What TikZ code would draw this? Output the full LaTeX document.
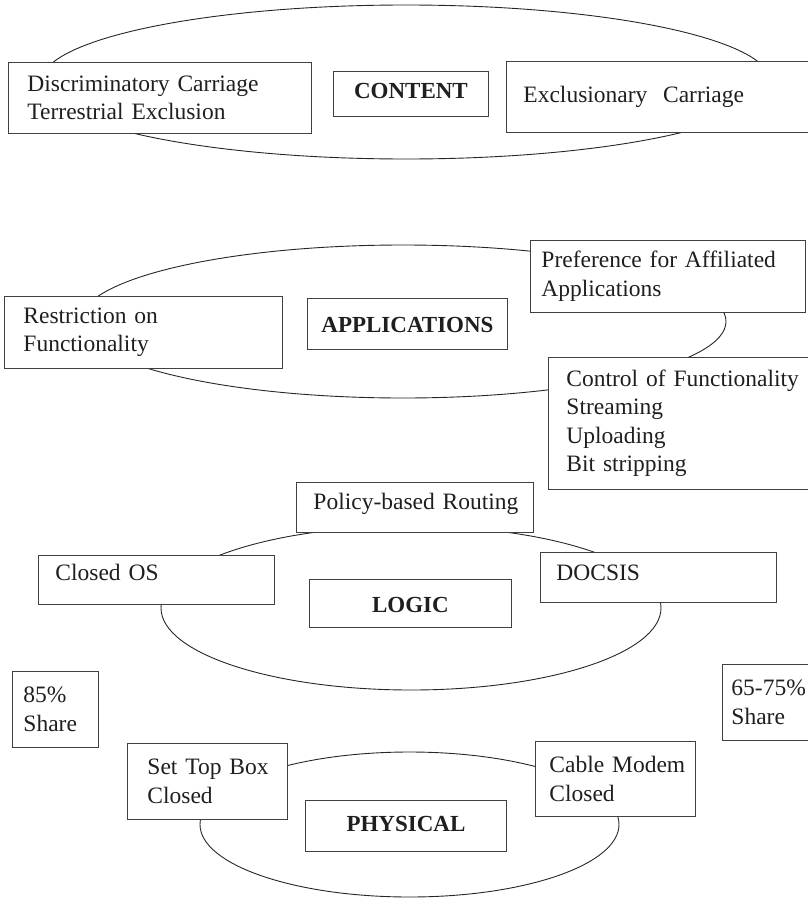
\documentclass[tikz,border=0pt]{standalone}
\usepackage{fontspec}
\setmainfont{Liberation Serif}
\usetikzlibrary{shapes.geometric}
\begin{document}
\begin{tikzpicture}[x=1pt,y=-1pt,
  ring/.style={draw=black!85, line width=0.9pt, ellipse, inner sep=0pt},
  bx/.style={draw=black!75, line width=0.9pt, fill=white, rectangle, anchor=north west,
    inner xsep=0pt, inner ysep=0pt, font=\fontsize{23.5}{28.5}\selectfont, text=black!88},
  lbox/.style={bx, align=left},
  tbox/.style={bx, align=center, font=\fontsize{23}{28.5}\selectfont\bfseries}
]
\useasboundingbox (0,0) rectangle (808,899);

% layer rings
\node[ring, minimum width=730pt, minimum height=154pt] (ringC) at (406,82) {};
\node[ring, minimum width=646pt, minimum height=153pt] (ringA) at (403,321.5) {};
\node[ring, minimum width=500pt, minimum height=164pt] (ringL) at (411,608) {};
\node[ring, minimum width=419pt, minimum height=145pt] (ringP) at (409.5,824.5) {};

% CONTENT
\node[lbox, minimum width=303pt, minimum height=71pt, text width=265pt] (dc) at (8,62)
  {\mbox{Discriminatory Carriage}\\\mbox{Terrestrial Exclusion}};
\node[tbox, minimum width=155pt, minimum height=45pt, text height=27pt, text depth=18pt] (content) at (333,71) {CONTENT};
\node[lbox, minimum width=309pt, minimum height=71pt, text width=275pt, text height=41pt, text depth=30pt] (excl) at (506,61)
  {\mbox{Exclusionary\ \ Carriage}};

% APPLICATIONS
\node[lbox, minimum width=275pt, minimum height=72pt, text width=253pt] (pref) at (530,240)
  {\mbox{Preference for Affiliated}\\Applications};
\node[lbox, minimum width=278pt, minimum height=72pt, text width=240pt] (restr) at (4,296)
  {\mbox{Restriction on}\\Functionality};
\node[tbox, minimum width=200pt, minimum height=51pt, text height=34pt, text depth=17pt] (apps) at (307,298) {APPLICATIONS};
\node[lbox, minimum width=267pt, minimum height=132pt, text width=231pt] (ctrl) at (548,357)
  {\mbox{Control of Functionality}\\Streaming\\Uploading\\\mbox{Bit stripping}};

% LOGIC
\node[lbox, minimum width=237pt, minimum height=50pt, text width=203pt, text height=27pt, text depth=23pt] (policy) at (296,482)
  {\mbox{Policy-based Routing}};
\node[lbox, minimum width=236pt, minimum height=49pt, text width=202pt, text height=25pt, text depth=24pt] (closedos) at (38,555)
  {\mbox{Closed OS}};
\node[lbox, minimum width=236pt, minimum height=50pt, text width=204pt, text height=28pt, text depth=22pt] (docsis) at (540,552)
  {DOCSIS};
\node[tbox, minimum width=202pt, minimum height=48pt, text height=33pt, text depth=15pt] (logic) at (309,579) {LOGIC};

% shares
\node[lbox, minimum width=86pt, minimum height=76pt, text width=64pt] (shareA) at (12,671)
  {85\%\\Share};
\node[lbox, minimum width=93pt, minimum height=76pt, text width=75pt] (shareB) at (722,664)
  {\mbox{65-75\%}\\Share};

% PHYSICAL
\node[lbox, minimum width=160pt, minimum height=76pt, text width=120pt] (stb) at (127,743)
  {\mbox{Set Top Box}\\Closed};
\node[lbox, minimum width=160pt, minimum height=75pt, text width=132pt] (cable) at (535,741)
  {\mbox{Cable Modem}\\Closed};
\node[tbox, minimum width=201pt, minimum height=51pt, text height=31pt, text depth=20pt] (physical) at (305,800) {PHYSICAL};
\end{tikzpicture}
\end{document}
